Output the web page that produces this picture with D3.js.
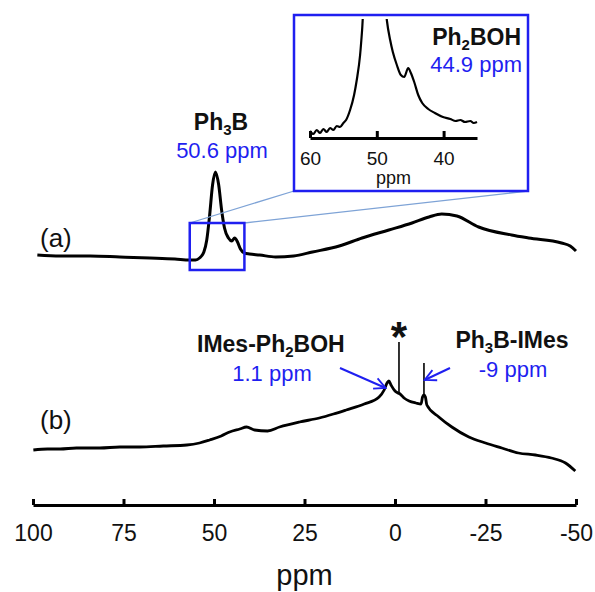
<!DOCTYPE html>
<html>
<head>
<meta charset="utf-8">
<script src="https://cdn.jsdelivr.net/npm/d3@7"></script>
<style>
  body { margin: 0; background: #fff; }
  svg text { font-family: "Liberation Sans", Arial, sans-serif; }
</style>
</head>
<body>
<div id="chart"></div>
<script>
// main axis ticks (ppm)
const mainTicks = [100, 75, 50, 25, 0, -25, -50];
const insetTicks = [60, 50, 40];

// trace (a): Ph3B, arbitrary intensity
const ppmA = [98.8, 92.5, 84.2, 76, 67.7, 60.8, 56.7, 55.1, 54, 52.8, 52, 51.2, 50.4, 49.6, 48.7, 47.9, 47.1, 46, 45.1, 44.3, 43.5, 42.7, 41.6, 40.2, 37.4, 33, 28, 22.8, 15.4, 9.1, 1.7, -4.7, -9.4, -12.9, -17.1, -23.1, -32.2, -36.9, -46, -48.4, -50];
const intA = [7, 6, 6, 5, 4, 3, 2, 2, 4, 10, 22, 47, 77, 90, 77, 52, 34, 24, 21, 24, 20, 13, 9, 8, 7, 5, 6, 10, 16, 24, 32, 39, 45, 48, 46, 35, 27, 24, 19, 16, 11];

// trace (b): Ph3B + IMes (broad part)
const ppmB = [99.9, 96, 92.5, 88, 81.5, 76, 70.5, 64, 57.5, 54, 51.2, 48, 45.7, 42.9, 41, 38.8, 35.2, 31.9, 26.4, 20.9, 17, 13.5, 8.5, 4.4, 3, 2.2, 1.7, 1.1, 0, -0.8, -1.4, -2.5, -3.9, -5.8, -7.2, -7.6, -8, -8.4, -8.8, -12.1, -15.7, -20.4, -25, -29.5, -34.1, -38.8, -43.2, -47.1, -49.8];
const intB = [22, 23, 23, 24, 24, 25, 25, 26, 27, 29, 32, 36, 40, 43, 45, 42, 41, 45, 50, 54, 58, 62, 68, 75, 82, 89, 91, 87, 81, 79, 78, 74, 71, 69, 68, 75, 77, 75, 67, 55, 45, 35, 29, 24, 19, 17, 14, 9, 1];

// sharp lines in (b): position, foot and top intensity
const spikePpm = [-1.1, -8];
const spikeBase = [79, 76];
const spikeTop = [130, 109];

// inset: zoom of (a) between 60 and 35 ppm
const ppmIn = [60, 59.5, 59, 58.5, 58, 57.5, 57, 56.5, 56, 55.5, 55, 54.6, 54, 53.4, 53, 52.5, 52.2, 51.9, 48.8, 48.5, 48, 47.6, 47, 46.4, 45.9, 45.3, 44.9, 44.4, 43.8, 43.2, 42.3, 41.3, 40.1, 39, 38.2, 37.5, 36.8, 36, 35.5, 35];
const intIn = [9, 6, 10, 7, 11, 8, 12, 10, 14, 13, 17, 20, 30, 45, 60, 85, 110, 140, 140, 120, 100, 88, 75, 65, 63, 72, 67, 58, 45, 37, 31, 27, 23, 21, 19, 20, 18, 19, 17, 18];

// zoom window drawn on trace (a)
const zoomPpm = [56.7, 41.6];
const zoomInt = [-8, 39];

const peakLabels = [
  { name: ["Ph", "3", "B"], shift: "50.6 ppm" },
  { name: ["Ph", "2", "BOH"], shift: "44.9 ppm" },
  { name: ["IMes-Ph", "2", "BOH"], shift: "1.1 ppm" },
  { name: ["Ph", "3", "B-IMes"], shift: "-9 ppm" }
];

const width = 595, height = 592,
  blue = '#1f1ff0',
  x = d3.scaleLinear().domain([100, -50]).range([33, 576]),
  yA = d3.scaleLinear().domain([0, 100]).range([262, 162]),
  yB = d3.scaleLinear().domain([0, 100]).range([472, 372]),
  xIn = d3.scaleLinear().domain([60, 35]).range([310, 477]),
  yIn = d3.scaleLinear().domain([0, 100]).range([140, 40]),
  axisY = 505, insetAxisY = 138,
  inset = { x: 294, y: 15, w: 234, h: 176 };

const svg = d3.select('#chart')
  .append('svg')
  .attr('width', width)
  .attr('height', height)
  .attr('viewBox', [0, 0, width, height]);

svg.append('defs').append('clipPath').attr('id', 'insetClip')
  .append('rect')
  .attr('x', inset.x).attr('y', inset.y + 4)
  .attr('width', inset.w).attr('height', inset.h);

const arrow = svg.select('defs').append('marker')
  .attr('id', 'arrow')
  .attr('viewBox', '0 0 10 10')
  .attr('refX', 9).attr('refY', 5)
  .attr('markerWidth', 7).attr('markerHeight', 7)
  .attr('markerUnits', 'strokeWidth')
  .attr('orient', 'auto');
arrow.append('path')
  .attr('d', 'M1,1 L9,5 L1,9')
  .attr('fill', 'none')
  .attr('stroke', blue)
  .attr('stroke-width', 1.3);

// spectra
const lineA = d3.line().curve(d3.curveMonotoneX).x(i => x(ppmA[i])).y(i => yA(intA[i]));
const lineB = d3.line().curve(d3.curveMonotoneX).x(i => x(ppmB[i])).y(i => yB(intB[i]));
const lineIn = d3.line().curve(d3.curveMonotoneX).x(i => xIn(ppmIn[i])).y(i => yIn(intIn[i]));

svg.append('path')
  .attr('d', lineA(d3.range(ppmA.length)))
  .attr('fill', 'none').attr('stroke', '#000')
  .attr('stroke-width', 3).attr('stroke-linejoin', 'round');

svg.append('path')
  .attr('d', lineB(d3.range(ppmB.length)))
  .attr('fill', 'none').attr('stroke', '#000')
  .attr('stroke-width', 2.8).attr('stroke-linejoin', 'round');

svg.selectAll('line.spike')
  .data(d3.range(spikePpm.length))
  .join('line')
  .attr('class', 'spike')
  .attr('x1', i => x(spikePpm[i])).attr('x2', i => x(spikePpm[i]))
  .attr('y1', i => yB(spikeBase[i])).attr('y2', i => yB(spikeTop[i]))
  .attr('stroke', '#000').attr('stroke-width', 1.6);

// zoom box + connectors
const bx0 = x(zoomPpm[0]), bx1 = x(zoomPpm[1]), by0 = yA(zoomInt[1]), by1 = yA(zoomInt[0]);

svg.append('line')
  .attr('x1', bx0).attr('y1', by0)
  .attr('x2', inset.x).attr('y2', inset.y + inset.h)
  .attr('stroke', '#7ea3d6').attr('stroke-width', 1.3);
svg.append('line')
  .attr('x1', bx1).attr('y1', by0)
  .attr('x2', inset.x + inset.w).attr('y2', inset.y + inset.h)
  .attr('stroke', '#7ea3d6').attr('stroke-width', 1.3);

svg.append('rect')
  .attr('x', bx0).attr('y', by0)
  .attr('width', bx1 - bx0).attr('height', by1 - by0)
  .attr('fill', 'none').attr('stroke', blue).attr('stroke-width', 2.5);

// inset
svg.append('rect')
  .attr('x', inset.x).attr('y', inset.y)
  .attr('width', inset.w).attr('height', inset.h)
  .attr('fill', '#fff').attr('stroke', blue).attr('stroke-width', 2.5);

svg.append('path')
  .attr('d', lineIn(d3.range(ppmIn.length)))
  .attr('clip-path', 'url(#insetClip)')
  .attr('fill', 'none').attr('stroke', '#000')
  .attr('stroke-width', 2.2).attr('stroke-linejoin', 'round');

const insetAxis = svg.append('g')
  .attr('transform', `translate(0,${insetAxisY})`)
  .call(d3.axisBottom(xIn).tickValues(insetTicks).tickSize(-7).tickSizeOuter(0)
    .tickPadding(14).tickFormat(d => String(d)));
insetAxis.select('.domain').attr('stroke-width', 3);
insetAxis.selectAll('.tick line').attr('stroke-width', 3);
insetAxis.selectAll('.tick text')
  .attr('font-family', '"Liberation Sans", Arial, sans-serif')
  .attr('font-size', 19).attr('fill', '#111');

svg.append('text')
  .attr('x', xIn(47.5)).attr('y', 184)
  .attr('text-anchor', 'middle')
  .attr('font-size', 18).attr('fill', '#111')
  .text('ppm');

// main axis
const mainAxis = svg.append('g')
  .attr('transform', `translate(0,${axisY})`)
  .call(d3.axisBottom(x).tickValues(mainTicks).tickSize(-6).tickSizeOuter(0)
    .tickPadding(20).tickFormat(d => String(d)));
mainAxis.select('.domain').attr('stroke-width', 3);
mainAxis.selectAll('.tick line').attr('stroke-width', 3);
mainAxis.selectAll('.tick text')
  .attr('font-family', '"Liberation Sans", Arial, sans-serif')
  .attr('font-size', 23).attr('fill', '#111');

svg.append('text')
  .attr('x', x(25)).attr('y', 585)
  .attr('text-anchor', 'middle')
  .attr('font-size', 29).attr('fill', '#111')
  .text('ppm');

// trace labels
svg.append('text').attr('x', 40).attr('y', 247).attr('font-size', 26).attr('fill', '#111').text('(a)');
svg.append('text').attr('x', 40).attr('y', 429).attr('font-size', 26).attr('fill', '#111').text('(b)');

// compound names with subscripts
function nameLabel(parts, px, py, anchor) {
  const t = svg.append('text')
    .attr('x', px).attr('y', py)
    .attr('text-anchor', anchor)
    .attr('font-size', 23).attr('font-weight', 'bold').attr('fill', '#111');
  t.append('tspan').text(parts[0]);
  t.append('tspan').attr('font-size', 15).attr('dy', 5).text(parts[1]);
  t.append('tspan').attr('dy', -5).text(parts[2]);
}
function shiftLabel(txt, px, py, anchor) {
  svg.append('text')
    .attr('x', px).attr('y', py)
    .attr('text-anchor', anchor)
    .attr('font-size', 22).attr('fill', blue)
    .text(txt);
}

nameLabel(peakLabels[0].name, 221, 130, 'middle');
shiftLabel(peakLabels[0].shift, 222, 158, 'middle');
nameLabel(peakLabels[1].name, 521, 45, 'end');
shiftLabel(peakLabels[1].shift, 522, 72, 'end');
nameLabel(peakLabels[2].name, 197, 352, 'start');
shiftLabel(peakLabels[2].shift, 272, 381, 'middle');
nameLabel(peakLabels[3].name, 512, 348, 'middle');
shiftLabel(peakLabels[3].shift, 513, 377, 'middle');

svg.append('text')
  .attr('x', x(-1.1)).attr('y', 351)
  .attr('text-anchor', 'middle')
  .attr('font-size', 42).attr('font-weight', 'bold').attr('fill', '#111')
  .text('*');

// arrows
svg.append('line')
  .attr('x1', 340).attr('y1', 368).attr('x2', x(2.6)).attr('y2', 388)
  .attr('stroke', blue).attr('stroke-width', 2).attr('marker-end', 'url(#arrow)');
svg.append('line')
  .attr('x1', 450).attr('y1', 368).attr('x2', x(-8.2)).attr('y2', 380)
  .attr('stroke', blue).attr('stroke-width', 2).attr('marker-end', 'url(#arrow)');
</script>
</body>
</html>
